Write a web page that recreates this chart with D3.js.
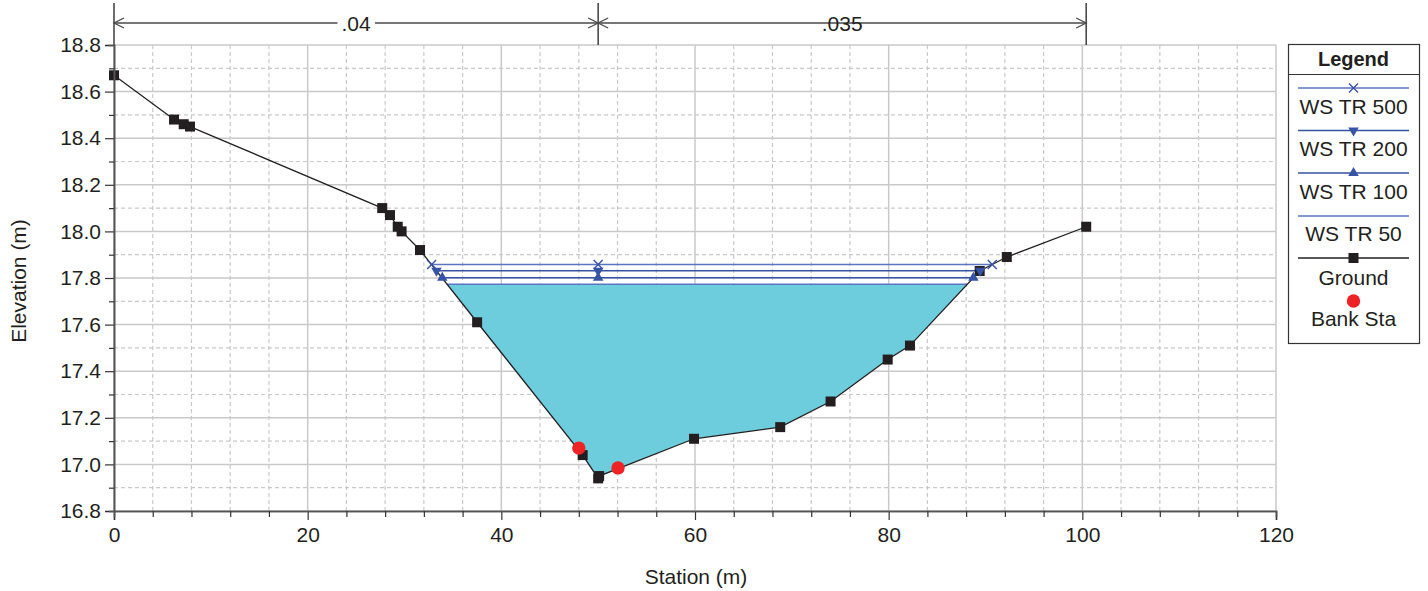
<!DOCTYPE html>
<html>
<head>
<meta charset="utf-8">
<script src="https://cdn.jsdelivr.net/npm/d3@7"></script>
<style>
  html, body { margin: 0; padding: 0; background: #fff; }
  svg { display: block; font-family: "Liberation Sans", Arial, sans-serif; }
</style>
</head>
<body>
<svg id="chart" width="1428" height="591"></svg>
<script>
// ---------------- data ----------------
const groundSta  = [0, 6.2, 7.2, 7.85, 27.7, 28.5, 29.3, 29.7, 31.6, 37.5, 48.4, 50.0, 50.1, 59.9, 68.8, 74.0, 79.9, 82.2, 89.4, 92.2, 100.4];
const groundElev = [18.67, 18.48, 18.46, 18.45, 18.10, 18.07, 18.02, 18.00, 17.92, 17.61, 17.04, 16.94, 16.95, 17.11, 17.16, 17.27, 17.45, 17.51, 17.83, 17.89, 18.02];

const wsNames = ["WS TR 500", "WS TR 200", "WS TR 100", "WS TR 50"];
const wsElev  = [17.858, 17.831, 17.801, 17.773];
const wsLeft  = [32.8, 33.3, 33.9, 34.4];
const wsRight = [90.7, 89.45, 88.75, 88.1];
const wsMid   = [50, 50, 50, null];

const bankSta  = [48.0, 52.05];
const bankElev = [17.07, 16.985];

const nSta  = [0, 50, 100.4];
const nVals = [".04", ".035"];

const xMajorTicks = [0, 20, 40, 60, 80, 100, 120];
const yMajorTicks = [16.8, 17.0, 17.2, 17.4, 17.6, 17.8, 18.0, 18.2, 18.4, 18.6, 18.8];

// ---------------- styles ----------------
const wsColors  = ["#5b76c0", "#3653a5", "#3653a5", "#5b76c0"];
const wsMarkers = ["x", "down", "up", null];
const gridColor = "#c9c9c9";
const textColor = "#231f20";
const fillColor = "#6dcddd";
const FS = 21;

const svg = d3.select("#chart");
const L = 114, R = 1276, T = 45, B = 511;

const x = d3.scaleLinear().domain([0, 120]).range([L, R]);
const y = d3.scaleLinear().domain([16.8, 18.8]).range([B, T]);

const xMinor = d3.range(0, 121, 4).filter(v => v % 20 !== 0);
const yMinor = d3.range(16.9, 18.8, 0.2).map(v => +v.toFixed(1));

// grid
const grid = svg.append("g");
grid.selectAll(".xminor").data(xMinor).join("line")
  .attr("x1", d => x(d)).attr("x2", d => x(d)).attr("y1", T).attr("y2", B)
  .attr("stroke", gridColor).attr("stroke-width", 1.2).attr("stroke-dasharray", "4,3");
grid.selectAll(".yminor").data(yMinor).join("line")
  .attr("x1", L).attr("x2", R).attr("y1", d => y(d)).attr("y2", d => y(d))
  .attr("stroke", gridColor).attr("stroke-width", 1.2).attr("stroke-dasharray", "4,3");
grid.selectAll(".xmajor").data(xMajorTicks).join("line")
  .attr("x1", d => x(d)).attr("x2", d => x(d)).attr("y1", T).attr("y2", B)
  .attr("stroke", gridColor).attr("stroke-width", 1.5);
grid.selectAll(".ymajor").data(yMajorTicks).join("line")
  .attr("x1", L).attr("x2", R).attr("y1", d => y(d)).attr("y2", d => y(d))
  .attr("stroke", gridColor).attr("stroke-width", 1.5);

// water fill (WS TR 50 against ground)
const ground = groundSta.map((s, i) => [s, groundElev[i]]);
const fi = 3;
const fillPts = [[wsLeft[fi], wsElev[fi]]]
  .concat(ground.filter(p => p[0] > wsLeft[fi] && p[0] < wsRight[fi]))
  .concat([[wsRight[fi], wsElev[fi]]]);
svg.append("path")
  .attr("d", d3.line().x(d => x(d[0])).y(d => y(d[1]))(fillPts) + "Z")
  .attr("fill", fillColor);

// WS lines
wsNames.forEach((n, i) => {
  svg.append("line")
    .attr("x1", x(wsLeft[i])).attr("x2", x(wsRight[i]))
    .attr("y1", y(wsElev[i])).attr("y2", y(wsElev[i]))
    .attr("stroke", wsColors[i]).attr("stroke-width", 1.6);
});

// ground line
svg.append("path")
  .attr("d", d3.line().x(d => x(d[0])).y(d => y(d[1]))(ground))
  .attr("fill", "none").attr("stroke", textColor).attr("stroke-width", 1.3);
svg.selectAll(".gsq").data(ground).join("rect")
  .attr("x", d => x(d[0]) - 5).attr("y", d => y(d[1]) - 5)
  .attr("width", 10).attr("height", 10).attr("fill", textColor);

// marker helper
function drawMarker(g, type, cx, cy, color) {
  if (type === "x") {
    const s = 4.5;
    g.append("path")
      .attr("d", `M${cx - s},${cy - s}L${cx + s},${cy + s}M${cx - s},${cy + s}L${cx + s},${cy - s}`)
      .attr("stroke", color).attr("stroke-width", 1.4).attr("fill", "none");
  } else if (type === "up" || type === "down") {
    g.append("path")
      .attr("d", d3.symbol().type(d3.symbolTriangle).size(48)())
      .attr("transform", `translate(${cx},${cy}) rotate(${type === "down" ? 180 : 0})`)
      .attr("fill", color);
  } else if (type === "square") {
    g.append("rect").attr("x", cx - 5).attr("y", cy - 5).attr("width", 10).attr("height", 10).attr("fill", color);
  } else if (type === "circle") {
    g.append("circle").attr("cx", cx).attr("cy", cy).attr("r", 6.7).attr("fill", color);
  }
}

// WS markers
const mk = svg.append("g");
wsNames.forEach((n, i) => {
  if (!wsMarkers[i]) return;
  [wsLeft[i], wsMid[i], wsRight[i]].forEach(s => {
    if (s == null) return;
    drawMarker(mk, wsMarkers[i], x(s), y(wsElev[i]), "#3653a5");
  });
});

// bank stations
svg.selectAll(".bank").data(bankSta).join("circle")
  .attr("cx", d => x(d)).attr("cy", (d, i) => y(bankElev[i])).attr("r", 6.7)
  .attr("fill", "#ee2326");

// axes
const axisColor = "#555";
const xAxis = svg.append("g").attr("transform", `translate(0,${B})`)
  .call(d3.axisBottom(x).tickValues(xMajorTicks).tickSize(9).tickPadding(7).tickFormat(d3.format("d")));
const xAxisMinor = svg.append("g").attr("transform", `translate(0,${B})`)
  .call(d3.axisBottom(x).tickValues(xMinor).tickSize(6).tickFormat(""));
const yAxis = svg.append("g").attr("transform", `translate(${L},0)`)
  .call(d3.axisLeft(y).tickValues(yMajorTicks).tickSize(9).tickPadding(4).tickFormat(d3.format(".1f")));
const yAxisMinor = svg.append("g").attr("transform", `translate(${L},0)`)
  .call(d3.axisLeft(y).tickValues(yMinor).tickSize(5).tickFormat(""));
[xAxis, xAxisMinor, yAxis, yAxisMinor].forEach(g => {
  g.select(".domain").attr("stroke", axisColor).attr("stroke-width", 1.6);
  g.selectAll(".tick line").attr("stroke", "#333").attr("stroke-width", 1.2);
  g.selectAll(".tick text").attr("font-size", FS).attr("fill", textColor)
    .attr("font-family", '"Liberation Sans", Arial, sans-serif');
});

// axis titles
svg.append("text").attr("x", 696).attr("y", 584)
  .attr("text-anchor", "middle").attr("font-size", FS).attr("fill", textColor).text("Station (m)");
svg.append("text").attr("transform", `translate(26,281) rotate(-90)`)
  .attr("text-anchor", "middle").attr("font-size", FS).attr("fill", textColor).text("Elevation (m)");

// Manning's n annotation
const annY = 23, annColor = "#4a4a4a";
const ann = svg.append("g");
nSta.forEach(s => {
  ann.append("line").attr("x1", x(s)).attr("x2", x(s)).attr("y1", 3).attr("y2", T)
    .attr("stroke", annColor).attr("stroke-width", 1.6);
});
nVals.forEach((v, i) => {
  const x0 = x(nSta[i]), x1 = x(nSta[i + 1]);
  ann.append("line").attr("x1", x0).attr("x2", x1).attr("y1", annY).attr("y2", annY)
    .attr("stroke", annColor).attr("stroke-width", 1.3);
  ann.append("path").attr("d", `M${x0 + 10},${annY - 5}L${x0},${annY}L${x0 + 10},${annY + 5}`)
    .attr("fill", "none").attr("stroke", annColor).attr("stroke-width", 1.3);
  ann.append("path").attr("d", `M${x1 - 10},${annY - 5}L${x1},${annY}L${x1 - 10},${annY + 5}`)
    .attr("fill", "none").attr("stroke", annColor).attr("stroke-width", 1.3);
  const t = ann.append("text").attr("x", (x0 + x1) / 2).attr("y", annY + 8)
    .attr("text-anchor", "middle").attr("font-size", FS).attr("fill", textColor).text(v);
  const bb = t.node().getBBox();
  ann.insert("rect", "text").attr("x", bb.x - 4).attr("y", annY - 3).attr("width", bb.width + 8).attr("height", 6)
    .attr("fill", "#fff");
});

// legend
const lg = svg.append("g");
const lgX = 1288, lgW = 131, lgY = 44, lgH = 299, lgC = lgX + lgW / 2;
lg.append("rect").attr("x", lgX + 0.5).attr("y", lgY + 0.5).attr("width", lgW).attr("height", lgH)
  .attr("fill", "#fff").attr("stroke", "#333").attr("stroke-width", 1.2);
lg.append("line").attr("x1", lgX).attr("x2", lgX + lgW).attr("y1", 74.5).attr("y2", 74.5)
  .attr("stroke", "#333").attr("stroke-width", 1.2);
lg.append("text").attr("x", lgC).attr("y", 66).attr("text-anchor", "middle")
  .attr("font-size", 20).attr("font-weight", "bold").attr("fill", textColor).text("Legend");

const legendNames   = wsNames.concat(["Ground", "Bank Sta"]);
const legendColors  = wsColors.concat([textColor, "#ee2326"]);
const legendMarkers = wsMarkers.concat(["square", "circle"]);
const legendLineY = [88, 130.5, 173, 216, 258, 301];
const legendTextY = [114, 156, 199, 241, 285, 326];
legendNames.forEach((n, i) => {
  if (legendMarkers[i] !== "circle") {
    lg.append("line").attr("x1", 1298).attr("x2", 1409).attr("y1", legendLineY[i]).attr("y2", legendLineY[i])
      .attr("stroke", legendColors[i]).attr("stroke-width", 1.5);
  }
  if (legendMarkers[i]) {
    drawMarker(lg, legendMarkers[i], lgC, legendLineY[i], i < 4 ? "#3653a5" : legendColors[i]);
  }
  lg.append("text").attr("x", lgC).attr("y", legendTextY[i]).attr("text-anchor", "middle")
    .attr("font-size", FS).attr("fill", textColor).text(n);
});
</script>
</body>
</html>
